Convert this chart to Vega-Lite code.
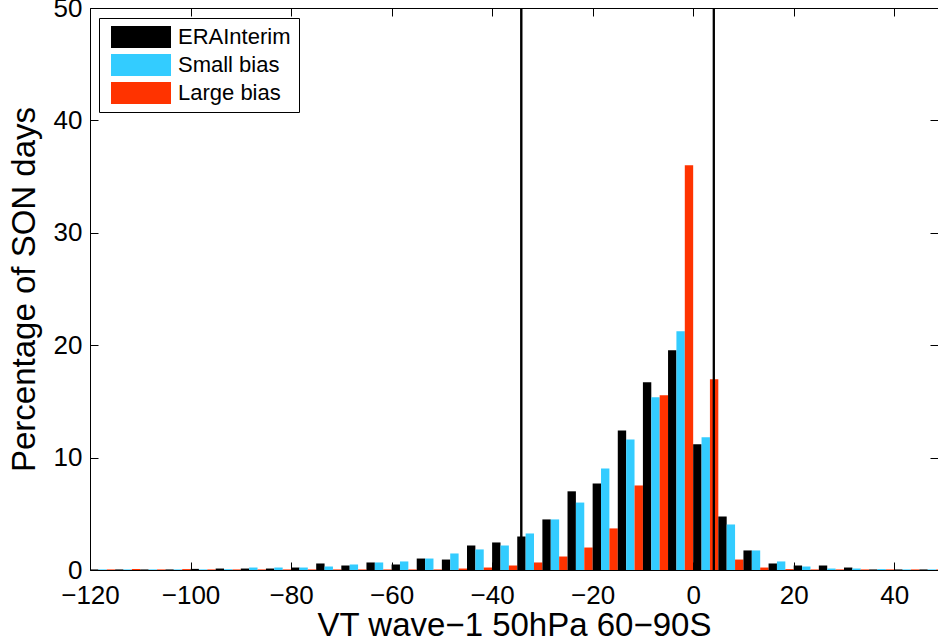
{
  "$schema": "https://vega.github.io/schema/vega-lite/v6.json",
  "width": 848,
  "height": 562,
  "autosize": {"type": "none"},
  "padding": {"left": 90, "top": 8, "right": 0, "bottom": 74},
  "background": "white",
  "config": {
    "view": {"stroke": null},
    "font": "Liberation Sans",
    "axis": {
      "grid": false,
      "domainColor": "black",
      "domainWidth": 1,
      "tickColor": "black",
      "tickWidth": 1,
      "tickSize": -8,
      "labelColor": "black",
      "labelFont": "Liberation Sans",
      "labelFontSize": 26,
      "titleFont": "Liberation Sans",
      "titleFontSize": 33,
      "titleFontWeight": "normal",
      "titleColor": "black",
      "labelFlush": false,
      "labelOverlap": false
    },
    "legend": {
      "labelFont": "Liberation Sans"
    }
  },
  "layer": [
    {
      "data": {
        "values": [
          {"lo": -120, "series": "ERAInterim", "pct": 0.05},
          {"lo": -120, "series": "Small bias", "pct": 0.05},
          {"lo": -120, "series": "Large bias", "pct": 0.05},
          {"lo": -115, "series": "ERAInterim", "pct": 0.05},
          {"lo": -115, "series": "Small bias", "pct": 0.05},
          {"lo": -115, "series": "Large bias", "pct": 0.08},
          {"lo": -110, "series": "ERAInterim", "pct": 0.05},
          {"lo": -110, "series": "Small bias", "pct": 0.05},
          {"lo": -110, "series": "Large bias", "pct": 0.05},
          {"lo": -105, "series": "ERAInterim", "pct": 0.05},
          {"lo": -105, "series": "Small bias", "pct": 0.05},
          {"lo": -105, "series": "Large bias", "pct": 0.08},
          {"lo": -100, "series": "ERAInterim", "pct": 0.1},
          {"lo": -100, "series": "Small bias", "pct": 0.05},
          {"lo": -100, "series": "Large bias", "pct": 0.05},
          {"lo": -95, "series": "ERAInterim", "pct": 0.13},
          {"lo": -95, "series": "Small bias", "pct": 0.07},
          {"lo": -95, "series": "Large bias", "pct": 0.05},
          {"lo": -90, "series": "ERAInterim", "pct": 0.13},
          {"lo": -90, "series": "Small bias", "pct": 0.22},
          {"lo": -90, "series": "Large bias", "pct": 0.05},
          {"lo": -85, "series": "ERAInterim", "pct": 0.13},
          {"lo": -85, "series": "Small bias", "pct": 0.22},
          {"lo": -85, "series": "Large bias", "pct": 0.05},
          {"lo": -80, "series": "ERAInterim", "pct": 0.22},
          {"lo": -80, "series": "Small bias", "pct": 0.22},
          {"lo": -80, "series": "Large bias", "pct": 0.05},
          {"lo": -75, "series": "ERAInterim", "pct": 0.58},
          {"lo": -75, "series": "Small bias", "pct": 0.31},
          {"lo": -75, "series": "Large bias", "pct": 0.05},
          {"lo": -70, "series": "ERAInterim", "pct": 0.4},
          {"lo": -70, "series": "Small bias", "pct": 0.49},
          {"lo": -70, "series": "Large bias", "pct": 0.05},
          {"lo": -65, "series": "ERAInterim", "pct": 0.67},
          {"lo": -65, "series": "Small bias", "pct": 0.67},
          {"lo": -65, "series": "Large bias", "pct": 0.05},
          {"lo": -60, "series": "ERAInterim", "pct": 0.49},
          {"lo": -60, "series": "Small bias", "pct": 0.76},
          {"lo": -60, "series": "Large bias", "pct": 0.05},
          {"lo": -55, "series": "ERAInterim", "pct": 1.02},
          {"lo": -55, "series": "Small bias", "pct": 1.02},
          {"lo": -55, "series": "Large bias", "pct": 0.05},
          {"lo": -50, "series": "ERAInterim", "pct": 0.93},
          {"lo": -50, "series": "Small bias", "pct": 1.47},
          {"lo": -50, "series": "Large bias", "pct": 0.13},
          {"lo": -45, "series": "ERAInterim", "pct": 2.18},
          {"lo": -45, "series": "Small bias", "pct": 1.83},
          {"lo": -45, "series": "Large bias", "pct": 0.22},
          {"lo": -40, "series": "ERAInterim", "pct": 2.45},
          {"lo": -40, "series": "Small bias", "pct": 2.18},
          {"lo": -40, "series": "Large bias", "pct": 0.4},
          {"lo": -35, "series": "ERAInterim", "pct": 2.98},
          {"lo": -35, "series": "Small bias", "pct": 3.25},
          {"lo": -35, "series": "Large bias", "pct": 0.67},
          {"lo": -30, "series": "ERAInterim", "pct": 4.5},
          {"lo": -30, "series": "Small bias", "pct": 4.5},
          {"lo": -30, "series": "Large bias", "pct": 1.2},
          {"lo": -25, "series": "ERAInterim", "pct": 7.0},
          {"lo": -25, "series": "Small bias", "pct": 6.0},
          {"lo": -25, "series": "Large bias", "pct": 2.0},
          {"lo": -20, "series": "ERAInterim", "pct": 7.7},
          {"lo": -20, "series": "Small bias", "pct": 9.04},
          {"lo": -20, "series": "Large bias", "pct": 3.7},
          {"lo": -15, "series": "ERAInterim", "pct": 12.42},
          {"lo": -15, "series": "Small bias", "pct": 11.62},
          {"lo": -15, "series": "Large bias", "pct": 7.52},
          {"lo": -10, "series": "ERAInterim", "pct": 16.7},
          {"lo": -10, "series": "Small bias", "pct": 15.36},
          {"lo": -10, "series": "Large bias", "pct": 15.54},
          {"lo": -5, "series": "ERAInterim", "pct": 19.55},
          {"lo": -5, "series": "Small bias", "pct": 21.24},
          {"lo": -5, "series": "Large bias", "pct": 36.02},
          {"lo": 0, "series": "ERAInterim", "pct": 11.18},
          {"lo": 0, "series": "Small bias", "pct": 11.8},
          {"lo": 0, "series": "Large bias", "pct": 16.96},
          {"lo": 5, "series": "ERAInterim", "pct": 4.76},
          {"lo": 5, "series": "Small bias", "pct": 4.05},
          {"lo": 5, "series": "Large bias", "pct": 0.93},
          {"lo": 10, "series": "ERAInterim", "pct": 1.74},
          {"lo": 10, "series": "Small bias", "pct": 1.74},
          {"lo": 10, "series": "Large bias", "pct": 0.22},
          {"lo": 15, "series": "ERAInterim", "pct": 0.58},
          {"lo": 15, "series": "Small bias", "pct": 0.76},
          {"lo": 15, "series": "Large bias", "pct": 0.08},
          {"lo": 20, "series": "ERAInterim", "pct": 0.4},
          {"lo": 20, "series": "Small bias", "pct": 0.31},
          {"lo": 20, "series": "Large bias", "pct": 0.05},
          {"lo": 25, "series": "ERAInterim", "pct": 0.4},
          {"lo": 25, "series": "Small bias", "pct": 0.13},
          {"lo": 25, "series": "Large bias", "pct": 0.05},
          {"lo": 30, "series": "ERAInterim", "pct": 0.22},
          {"lo": 30, "series": "Small bias", "pct": 0.13},
          {"lo": 30, "series": "Large bias", "pct": 0.05},
          {"lo": 35, "series": "ERAInterim", "pct": 0.05},
          {"lo": 35, "series": "Small bias", "pct": 0.08},
          {"lo": 35, "series": "Large bias", "pct": 0.05},
          {"lo": 40, "series": "ERAInterim", "pct": 0.05},
          {"lo": 40, "series": "Small bias", "pct": 0.05},
          {"lo": 40, "series": "Large bias", "pct": 0.05},
          {"lo": 45, "series": "ERAInterim", "pct": 0.05},
          {"lo": 45, "series": "Small bias", "pct": 0.05},
          {"lo": 45, "series": "Large bias", "pct": 0.05}
        ]
      },
      "mark": {"type": "bar", "clip": true, "strokeWidth": 0},
      "encoding": {
        "x": {
          "field": "lo",
          "type": "ordinal",
          "scale": {"paddingInner": 0, "paddingOuter": 0, "rangeMax": 854.5},
          "axis": null
        },
        "xOffset": {
          "field": "series",
          "type": "nominal",
          "sort": ["ERAInterim", "Small bias", "Large bias"],
          "scale": {"paddingInner": 0, "paddingOuter": 0}
        },
        "y": {
          "field": "pct",
          "type": "quantitative",
          "stack": null,
          "scale": {"domain": [0, 50], "nice": false},
          "axis": {
            "orient": "left",
            "values": [0, 10, 20, 30, 40, 50],
            "labelPadding": 16,
            "title": "Percentage of SON days",
            "titlePadding": 12
          }
        },
        "color": {
          "field": "series",
          "type": "nominal",
          "sort": ["ERAInterim", "Small bias", "Large bias"],
          "scale": {
            "domain": ["ERAInterim", "Small bias", "Large bias"],
            "range": ["#000000", "#33CCFF", "#FF3300"]
          },
          "legend": {
            "title": null,
            "orient": "none",
            "legendX": 9,
            "legendY": 10,
            "padding": 8,
            "strokeColor": "black",
            "fillColor": "white",
            "cornerRadius": 0,
            "symbolType": "M-0.636,-1H4.818V1H-0.636Z",
            "symbolSize": 484,
            "symbolStrokeWidth": 0,
            "symbolOpacity": 1,
            "labelFontSize": 22,
            "labelOffset": 49,
            "labelColor": "black",
            "rowPadding": 6
          }
        }
      }
    },
    {
      "data": {"values": [{"v": -34.2}, {"v": 4.1}]},
      "mark": {"type": "rule", "color": "black", "strokeWidth": 2},
      "encoding": {
        "x": {
          "field": "v",
          "type": "quantitative",
          "scale": {"domain": [-120, 48.7], "nice": false, "zero": false},
          "axis": {
            "orient": "bottom",
            "values": [-120, -100, -80, -60, -40, -20, 0, 20, 40],
            "labelPadding": 20,
            "labelExpr": "datum.value < 0 ? datum.label + '\u2007\u00a0' : datum.label",
            "title": "VT wave\u22121 50hPa 60\u221290S",
            "titlePadding": 1
          }
        },
        "y": {
          "datum": 0,
          "type": "quantitative",
          "axis": {
            "orient": "right",
            "values": [0, 10, 20, 30, 40, 50],
            "labels": false,
            "title": null
          }
        },
        "y2": {"datum": 50}
      }
    },
    {
      "data": {"values": [{"v": -34.2}, {"v": 4.1}]},
      "mark": {"type": "rule", "color": "black", "strokeWidth": 2},
      "encoding": {
        "x": {
          "field": "v",
          "type": "quantitative",
          "scale": {"domain": [-120, 48.7], "nice": false, "zero": false},
          "axis": {
            "orient": "top",
            "values": [-120, -100, -80, -60, -40, -20, 0, 20, 40],
            "labels": false,
            "title": null
          }
        },
        "y": {"datum": 0, "type": "quantitative", "axis": null},
        "y2": {"datum": 50}
      }
    }
  ],
  "resolve": {
    "scale": {"x": "independent"},
    "axis": {"x": "independent", "y": "independent"}
  }
}
